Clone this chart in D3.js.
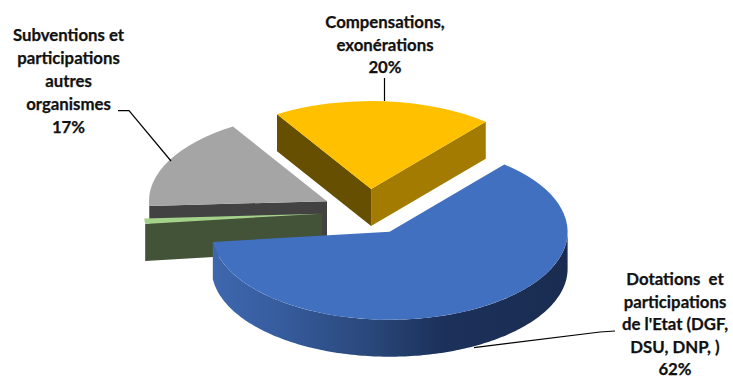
<!DOCTYPE html>
<html>
<head>
<meta charset="utf-8">
<script src="https://cdn.jsdelivr.net/npm/d3@7"></script>
<style>
  html, body { margin: 0; padding: 0; background: #fff; }
  svg { display: block; }
  text { font-family: Lato, "Open Sans", sans-serif; font-weight: 700; font-size: 16.8px; fill: #111; stroke: #111; stroke-width: 0.25px; text-anchor: middle; white-space: pre; }
</style>
</head>
<body>
<svg id="chart" width="733" height="379"></svg>
<script>
// Revenue shares, in clockwise order from the first slice
const categories = ["Dotations", "Autres", "Subventions", "Compensations"];
const values = [62, 1, 17, 20];

// Text blocks printed beside the pie, one string per line
const labelLines = [
  ["Dotations  et", "participations", "de l'Etat (DGF,", "DSU, DNP, )", "62%"],
  ["Compensations,", "exonérations", "20%"],
  ["Subventions et", "participations", "autres", "organismes", "17%"]
];

// Slice colours: top surface, front cut face and, for the yellow slice, its second cut face
const topColors = ["#4270c1", "#a5d28a", "#a5a5a5", "#ffc000"];
const cutColors = [null, "#435337", "#424242", "#664f00"];
const rightCutColor = "#a37b00";

const svg = d3.select("#chart");
const defs = svg.append("defs");

const pieCenter = [367.8, 211.7];
const radiusX = 178, radiusY = 88, depth = 37, explode = 46;
const deg = Math.PI / 180;

const pie = d3.pie().sort(null).value(d => d)
  .startAngle(40.1 * deg).endAngle(400.1 * deg);
const arcs = pie(values);

// Oblique projection: clockwise angle from the top of the disc to the screen
const sx = d3.scaleLinear().domain([-1, 1]).range([-radiusX, radiusX]);
const sy = d3.scaleLinear().domain([-1, 1]).range([-radiusY, radiusY]);
const rimPoint = (a, c, dz = 0) => [c[0] + sx(Math.sin(a)), c[1] - sy(Math.cos(a)) + dz];
const sliceCenter = d => {
  const mid = (d.startAngle + d.endAngle) / 2;
  return [pieCenter[0] + explode * Math.sin(mid), pieCenter[1] - explode * Math.cos(mid) * radiusY / radiusX];
};

const polyline = d3.line();
const topArc = d3.arc().innerRadius(0).outerRadius(radiusX);

const wallGradient = defs.append("linearGradient")
  .attr("id", "blueWall").attr("gradientUnits", "userSpaceOnUse")
  .attr("x1", 212).attr("x2", 567).attr("y1", 0).attr("y2", 0);
[[0, "#3e67ae"], [0.18, "#375d9f"], [0.45, "#294779"], [0.65, "#1c315b"], [1, "#1a2c50"]]
  .forEach(([o, c]) => wallGradient.append("stop").attr("offset", o).attr("stop-color", c));

function drawSlice(i) {
  const d = arcs[i];
  const c = sliceCenter(d);
  const g = svg.append("g");

  // Outer wall, only where the rim faces the viewer
  const from = Math.max(d.startAngle, 90 * deg), to = Math.min(d.endAngle, 270 * deg);
  if (to > from && i === 0) {
    const steps = d3.range(from, to, 1 * deg).concat([to]);
    const rim = steps.map(a => rimPoint(a, c)).concat(steps.slice().reverse().map(a => rimPoint(a, c, depth)));
    g.append("path").attr("d", polyline(rim) + "Z").attr("fill", "url(#blueWall)");
  }

  // Cut face on the slice's clockwise end
  if (cutColors[i]) {
    const p = rimPoint(d.startAngle, c);
    g.append("path")
      .attr("d", polyline([c, p, [p[0], p[1] + depth], [c[0], c[1] + depth]]) + "Z")
      .attr("fill", cutColors[i]);
  }
  // The yellow slice also shows the face on its far end
  if (i === 3) {
    const p = rimPoint(d.endAngle, c);
    g.append("path")
      .attr("d", polyline([c, p, [p[0], p[1] + depth], [c[0], c[1] + depth]]) + "Z")
      .attr("fill", rightCutColor);
  }

  // Top surface: a flat arc squashed into the tilted ellipse
  g.append("path")
    .attr("transform", `translate(${c[0]},${c[1]}) scale(1,${radiusY / radiusX})`)
    .attr("d", topArc(d))
    .attr("fill", topColors[i]);
}

[2, 1, 3, 0].forEach(drawSlice);

// Leader lines
const leaders = [
  [[474, 347.7], [600, 332], [615, 331]],
  [[384.5, 101], [384.5, 78]],
  [[171, 161], [129, 110.7], [118, 110.7]]
];
svg.append("g").selectAll("path").data(leaders).join("path")
  .attr("d", d => polyline(d))
  .attr("fill", "none").attr("stroke", "#000").attr("stroke-width", 1.2);

// Data labels
const labelPlacement = [
  { x: 675, y: 285, step: 22.6 },
  { x: 385, y: 28, step: 22.5 },
  { x: 68.5, y: 41, step: 23 }
];
labelLines.forEach((lines, i) => {
  const p = labelPlacement[i];
  svg.append("text").selectAll("tspan").data(lines).join("tspan")
    .attr("x", p.x).attr("y", (_, k) => p.y + k * p.step)
    .text(d => d);
});
</script>
</body>
</html>
